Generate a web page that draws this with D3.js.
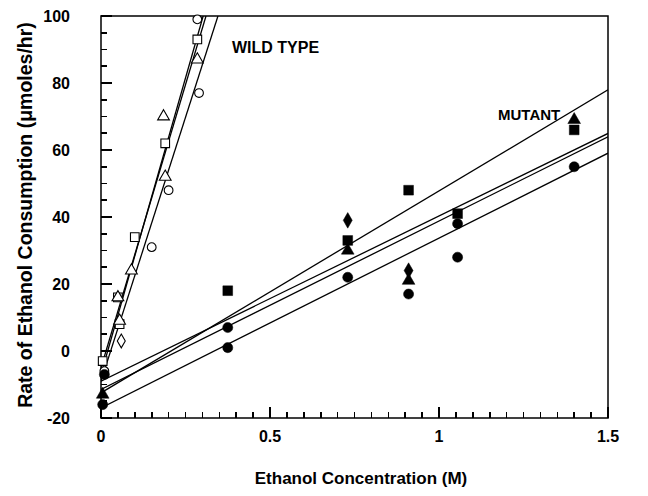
<!DOCTYPE html>
<html>
<head>
<meta charset="utf-8">
<script src="https://cdn.jsdelivr.net/npm/d3@7"></script>
<style>
  body { margin: 0; background: #fff; }
  svg { font-family: "Liberation Sans", Arial, sans-serif; font-weight: bold; }
</style>
</head>
<body>
<div id="chart"></div>
<script>
// Wild type points (open symbols): [concentration M, rate]
const wildCircles = [[0.01, -6], [0.15, 31], [0.2, 48], [0.29, 77], [0.285, 99]];
const wildSquares = [[0.005, -3], [0.05, 16], [0.055, 8], [0.1, 34], [0.19, 62], [0.285, 93]];
const wildTriangles = [[0.05, 16], [0.055, 9], [0.09, 24], [0.185, 70], [0.19, 52], [0.285, 87]];
const wildDiamonds = [[0.06, 3]];

// Mutant points (filled symbols)
const mutCircles = [[0.01, -7], [0.005, -16], [0.375, 1], [0.375, 7], [0.73, 22], [0.91, 17], [1.055, 38], [1.055, 28], [1.4, 55]];
const mutSquares = [[0.375, 18], [0.73, 33], [0.91, 48], [1.055, 41], [1.4, 66]];
const mutTriangles = [[0.005, -13], [0.73, 30], [0.91, 21], [1.4, 69]];
const mutDiamonds = [[0.73, 39], [0.91, 24]];

// regression lines: [intercept, slope]
const wildFits = [[-7, 354], [-5, 338], [-9, 315]];
const mutantFits = [[-12.5, 60.3], [-9, 49.3], [-11.5, 50.3], [-17, 50.7]];

const xTicks = [0, 0.5, 1, 1.5];
const xTickLabels = ["0", "0.5", "1", "1.5"];
const yTicks = [-20, 0, 20, 40, 60, 80, 100];

const w = 648, h = 496;
const margin = { left: 101, right: 40, top: 16, bottom: 78 };

const x = d3.scaleLinear().domain([0, 1.5]).range([margin.left, w - margin.right]);
const y = d3.scaleLinear().domain([-20, 100]).range([h - margin.bottom, margin.top]);

const svg = d3.select("#chart").append("svg").attr("width", w).attr("height", h);

svg.append("defs").append("clipPath").attr("id", "plot")
  .append("rect")
  .attr("x", x(0)).attr("y", y(100))
  .attr("width", x(1.5) - x(0)).attr("height", y(-20) - y(100));

// frame
svg.append("rect")
  .attr("x", x(0)).attr("y", y(100))
  .attr("width", x(1.5) - x(0)).attr("height", y(-20) - y(100))
  .attr("fill", "none").attr("stroke", "#000").attr("stroke-width", 1.5);

const isMajor = (list, v) => list.some(t => Math.abs(t - v) < 1e-6);

// x ticks (inward)
const xMinor = d3.range(0, 1.5001, 0.05);
svg.append("g")
  .attr("shape-rendering", "crispEdges")
  .selectAll("line")
  .data(xMinor)
  .enter()
  .append("line")
  .attr("x1", d => x(d)).attr("x2", d => x(d))
  .attr("y1", y(-20))
  .attr("y2", d => y(-20) - (isMajor(xTicks, d) ? 11 : 6))
  .attr("stroke", "#000").attr("stroke-width", 1.6);

svg.append("g")
  .selectAll("text")
  .data(xTicks)
  .enter()
  .append("text")
  .attr("x", d => x(d)).attr("y", y(-20) + 24)
  .attr("text-anchor", "middle").attr("font-size", 16)
  .text((d, i) => xTickLabels[i]);

// y ticks (inward)
const yMinor = d3.range(-20, 100.001, 5);
svg.append("g")
  .attr("shape-rendering", "crispEdges")
  .selectAll("line")
  .data(yMinor)
  .enter()
  .append("line")
  .attr("x1", x(0))
  .attr("x2", d => x(0) + (isMajor(yTicks, d) ? 11 : 6))
  .attr("y1", d => y(d)).attr("y2", d => y(d))
  .attr("stroke", "#000").attr("stroke-width", 1.6);

svg.append("g")
  .selectAll("text")
  .data(yTicks)
  .enter()
  .append("text")
  .attr("x", x(0) - 31).attr("y", d => y(d) + 6)
  .attr("text-anchor", "end").attr("font-size", 16)
  .text(d => d);

// fitted lines
const plot = svg.append("g").attr("clip-path", "url(#plot)");
plot.selectAll("line.wild")
  .data(wildFits)
  .enter()
  .append("line")
  .attr("x1", x(0)).attr("y1", d => y(d[0]))
  .attr("x2", d => x((100 - d[0]) / d[1])).attr("y2", y(100))
  .attr("stroke", "#000").attr("stroke-width", 1.3);

plot.selectAll("line.mut")
  .data(mutantFits)
  .enter()
  .append("line")
  .attr("x1", x(0)).attr("y1", d => y(d[0]))
  .attr("x2", x(1.5)).attr("y2", d => y(d[0] + d[1] * 1.5))
  .attr("stroke", "#000").attr("stroke-width", 1.3);

// markers
function drawSymbols(data, type, size, filled) {
  svg.append("g")
    .selectAll("path")
    .data(data)
    .enter()
    .append("path")
    .attr("d", d3.symbol().type(type).size(size))
    .attr("transform", d => `translate(${x(d[0])},${y(d[1])})`)
    .attr("fill", filled ? "#000" : "#fff")
    .attr("stroke", "#000")
    .attr("stroke-width", filled ? 0.5 : 1.1);
}

drawSymbols(wildCircles, d3.symbolCircle, 60, false);
drawSymbols(wildSquares, d3.symbolSquare, 75, false);
drawSymbols(wildTriangles, d3.symbolTriangle, 60, false);
drawSymbols(wildDiamonds, d3.symbolDiamond, 55, false);

drawSymbols(mutCircles, d3.symbolCircle, 80, true);
drawSymbols(mutSquares, d3.symbolSquare, 95, true);
drawSymbols(mutTriangles, d3.symbolTriangle, 70, true);
drawSymbols(mutDiamonds, d3.symbolDiamond, 70, true);

// labels
svg.append("text").attr("x", 232).attr("y", 53).attr("font-size", 16).text("WILD TYPE");
svg.append("text").attr("x", 498).attr("y", 120).attr("font-size", 15).text("MUTANT");

svg.append("text")
  .attr("x", 361).attr("y", 484)
  .attr("text-anchor", "middle").attr("font-size", 17)
  .text("Ethanol Concentration (M)");

svg.append("text")
  .attr("transform", `translate(32,215) rotate(-90)`)
  .attr("text-anchor", "middle").attr("font-size", 19.5)
  .text("Rate of Ethanol Consumption (μmoles/hr)");
</script>
</body>
</html>
